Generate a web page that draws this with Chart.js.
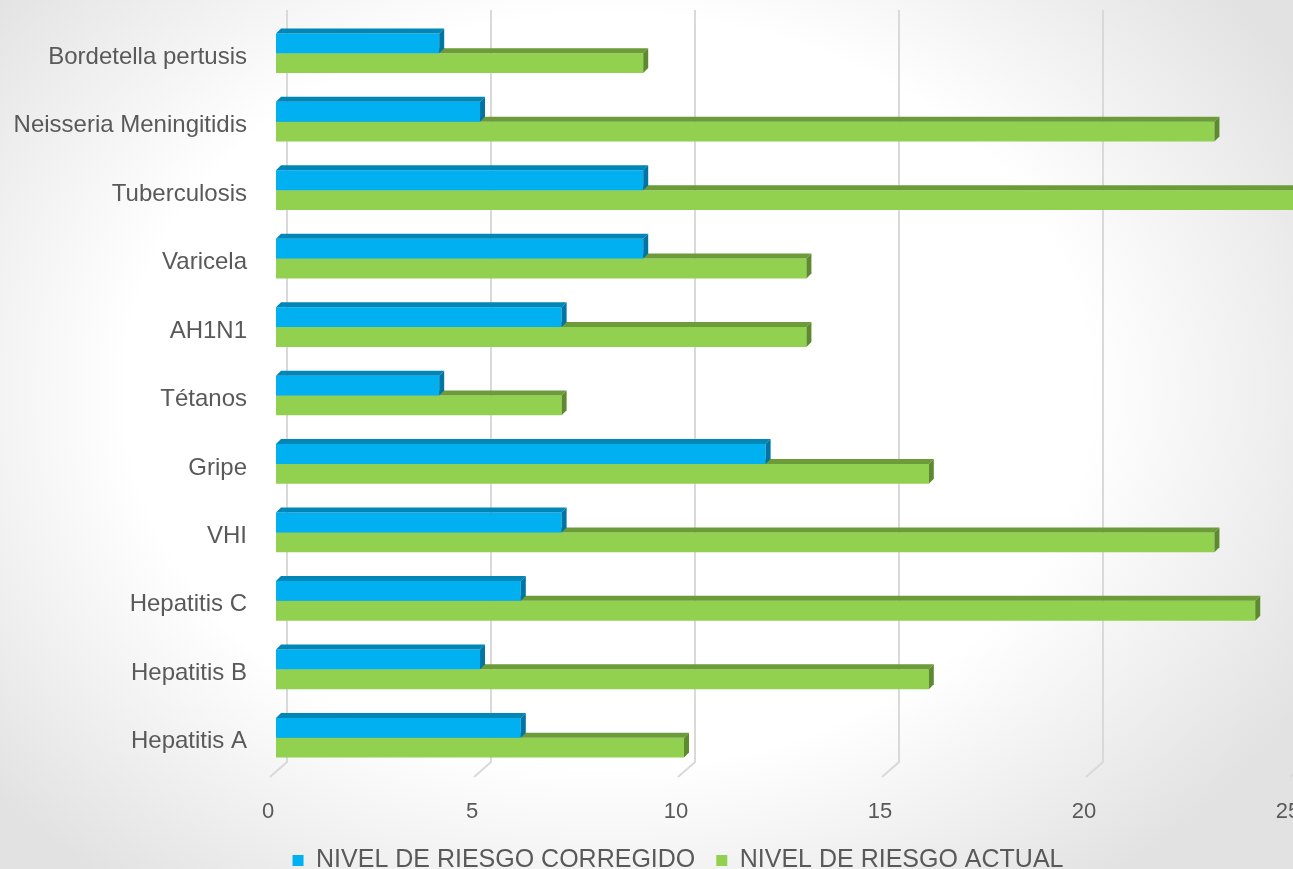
<!DOCTYPE html>
<html>
<head>
<meta charset="utf-8">
<script src="https://cdn.jsdelivr.net/npm/chart.js@4"></script>
<style>
  html, body { margin: 0; padding: 0; }
  body {
    width: 1293px; height: 869px; overflow: hidden;
    background: radial-gradient(ellipse 62% 72% at 47% 45%, #ffffff 60%, #e2e2e2 100%);
  }
  #wrap { position: relative; width: 1356px; height: 869px; }
</style>
</head>
<body>
<div id="wrap"><canvas id="chart"></canvas></div>
<script>
const CATEGORIES = [
  'Bordetella pertusis', 'Neisseria Meningitidis', 'Tuberculosis', 'Varicela', 'AH1N1',
  'Tétanos', 'Gripe', 'VHI', 'Hepatitis C', 'Hepatitis B', 'Hepatitis A'
];
const RIESGO_CORREGIDO = [4, 5, 9, 9, 7, 4, 12, 7, 6, 5, 6];
const RIESGO_ACTUAL = [9, 23, 25, 13, 13, 7, 16, 23, 24, 16, 10];
const X_TICKS = [0, 5, 10, 15, 20, 25];

const FONT = '"Liberation Sans", Arial, sans-serif';
const TEXT = '#595959';

// top and side faces of the 3D bars
const FACES = [
  { top: '#0086b7', side: '#0075a3' },
  { top: '#6c9b3a', side: '#5e8a2f' }
];
const DX = 5, DY = -5;

const bars3d = {
  id: 'bars3d',
  afterDatasetDraw(chart, args) {
    const ctx = chart.ctx;
    const f = FACES[args.index];
    ctx.save();
    args.meta.data.forEach(bar => {
      const { x, y, base, height } = bar.getProps(['x', 'y', 'base', 'height'], true);
      const top = y - height / 2, bottom = y + height / 2;
      ctx.fillStyle = f.top;
      ctx.beginPath();
      ctx.moveTo(base, top);
      ctx.lineTo(base + DX, top + DY);
      ctx.lineTo(x + DX, top + DY);
      ctx.lineTo(x, top);
      ctx.closePath();
      ctx.fill();
      ctx.fillStyle = f.side;
      ctx.beginPath();
      ctx.moveTo(x, top);
      ctx.lineTo(x + DX, top + DY);
      ctx.lineTo(x + DX, bottom + DY);
      ctx.lineTo(x, bottom);
      ctx.closePath();
      ctx.fill();
    });
    ctx.restore();
  }
};

// back-wall gridlines with a slanted floor edge
const wallGrid = {
  id: 'wallGrid',
  beforeDatasetsDraw(chart) {
    const ctx = chart.ctx;
    const sx = chart.scales.x;
    const area = chart.chartArea;
    ctx.save();
    ctx.strokeStyle = '#d9d9d9';
    ctx.lineWidth = 2;
    X_TICKS.forEach(v => {
      const px = sx.getPixelForValue(v);
      ctx.beginPath();
      ctx.moveTo(px + 11, area.top - 9);
      ctx.lineTo(px + 11, area.bottom - 10);
      ctx.lineTo(px - 6, area.bottom + 5);
      ctx.stroke();
    });
    ctx.restore();
  }
};

new Chart(document.getElementById('chart'), {
  type: 'bar',
  data: {
    labels: CATEGORIES,
    datasets: [
      {
        label: 'NIVEL DE RIESGO CORREGIDO',
        data: RIESGO_CORREGIDO,
        backgroundColor: '#00b0f0',
        categoryPercentage: 0.58,
        barPercentage: 1
      },
      {
        label: 'NIVEL DE RIESGO ACTUAL',
        data: RIESGO_ACTUAL,
        backgroundColor: '#92d050',
        categoryPercentage: 0.58,
        barPercentage: 1
      }
    ]
  },
  options: {
    indexAxis: 'y',
    responsive: true,
    maintainAspectRatio: false,
    animation: false,
    layout: { padding: { top: 19, right: 0, left: 0, bottom: -14 } },
    plugins: {
      legend: {
        position: 'bottom',
        labels: {
          boxWidth: 11,
          boxHeight: 11,
          padding: 21,
          color: TEXT,
          font: { family: FONT, size: 25 }
        }
      },
      tooltip: { enabled: false }
    },
    scales: {
      x: {
        min: 0,
        max: 26.47,
        afterBuildTicks(scale) { scale.ticks = X_TICKS.map(v => ({ value: v })); },
        afterFit(scale) {
          scale.height = 55;
          scale.paddingLeft = 0;
          scale.paddingRight = 0;
        },
        grid: { display: false, drawTicks: false },
        border: { display: false },
        ticks: {
          color: TEXT,
          labelOffset: -8,
          padding: 27,
          font: { family: FONT, size: 22 }
        }
      },
      y: {
        afterFit(scale) {
          scale.width = 276;
          scale.paddingTop = 0;
          scale.paddingBottom = 0;
        },
        grid: { display: false, drawTicks: false },
        border: { display: false },
        ticks: {
          color: TEXT,
          padding: 29,
          labelOffset: 4,
          font: { family: FONT, size: 24 }
        }
      }
    }
  },
  plugins: [wallGrid, bars3d]
});
</script>
</body>
</html>
